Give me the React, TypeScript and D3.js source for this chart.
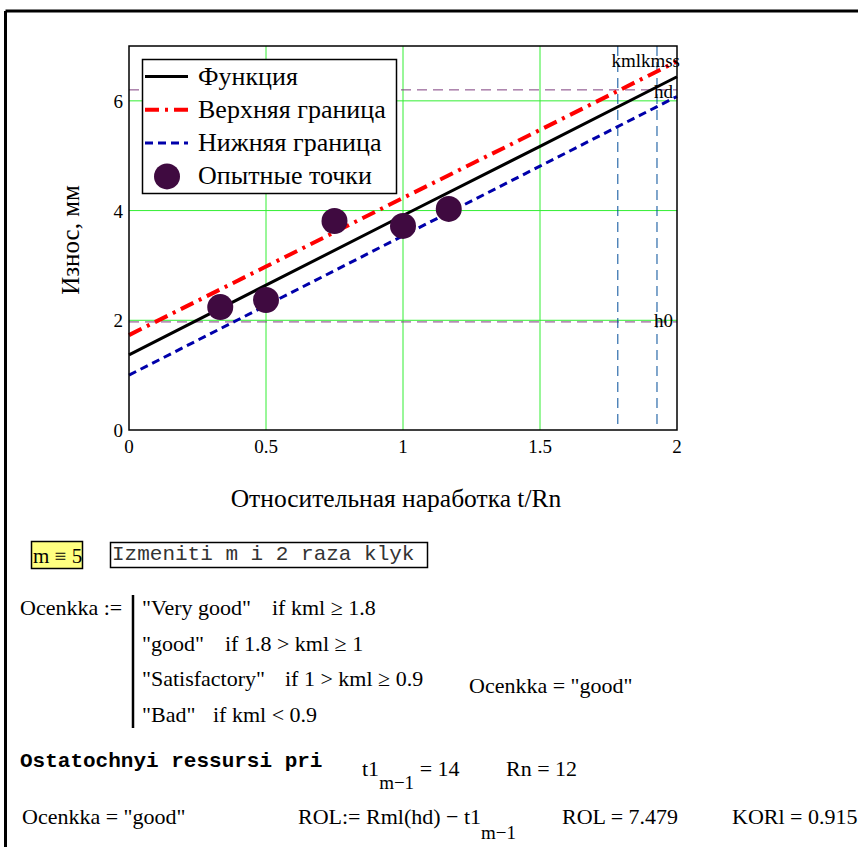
import { useMemo } from 'react'
import * as d3 from 'd3'

// line samples (relative running time t/Rn)
const lineX = [0, 0.5, 1, 1.5, 2]
const funcY = [1.37, 2.64, 3.91, 5.17, 6.44]
const upperY = [1.73, 2.98, 4.23, 5.47, 6.72]
const lowerY = [1.0, 2.27, 3.54, 4.81, 6.08]

// experimental points
const pointX = [0.333, 0.5, 0.75, 1.0, 1.167]
const pointY = [2.24, 2.37, 3.81, 3.72, 4.03]

// reference levels
const hd = 6.2
const h0 = 1.97
const kml = 1.784
const kmss = 1.927

const xTicks = [0, 0.5, 1, 1.5, 2]
const yTicks = [0, 2, 4, 6]
const xTickLabels = ['0', '0.5', '1', '1.5', '2']
const yTickLabels = ['0', '2', '4', '6']

const legendLabels = ['Функция', 'Верхняя граница', 'Нижняя граница', 'Опытные точки']

const serif = '"Liberation Serif", "Times New Roman", serif'
const mono = '"Liberation Mono", "Courier New", monospace'

const App = () => {
  const x = useMemo(() => d3.scaleLinear().domain([0, 2]).range([129, 677]), [])
  const y = useMemo(() => d3.scaleLinear().domain([0, 7]).range([430, 46]), [])

  const line = d3.line<number>()
    .x((d, i) => x(lineX[i]))
    .y(d => y(d))

  const [x0, x1] = x.range()
  const [y0, y1] = y.range()

  return (
    <svg width={858} height={847} style={{ position: 'absolute', left: 0, top: 0, background: '#fff' }}>
      {/* sheet frame */}
      <line x1={5.5} x2={858} y1={11} y2={11} stroke="#000" strokeWidth={3} />
      <line x1={5.5} x2={5.5} y1={11} y2={847} stroke="#000" strokeWidth={3} />

      {/* grid */}
      {xTicks.slice(1, -1).map(t => (
        <line key={'gx' + t} x1={x(t)} x2={x(t)} y1={y1} y2={y0} stroke="#33ee33" strokeWidth={1} />
      ))}
      {yTicks.slice(1).map(t => (
        <line key={'gy' + t} x1={x0} x2={x1} y1={y(t)} y2={y(t)} stroke="#33ee33" strokeWidth={1} />
      ))}

      {/* reference markers */}
      <line x1={x0} x2={x1} y1={y(hd)} y2={y(hd)} stroke="#7f3f7f" strokeWidth={1} strokeDasharray="10,6" />
      <line x1={x0} x2={x1} y1={y(h0)} y2={y(h0)} stroke="#7f3f7f" strokeWidth={1} strokeDasharray="10,6" />
      <line x1={x(kml)} x2={x(kml)} y1={y1} y2={y0} stroke="#004c99" strokeWidth={1} strokeDasharray="10,6" />
      <line x1={x(kmss)} x2={x(kmss)} y1={y1} y2={y0} stroke="#004c99" strokeWidth={1} strokeDasharray="10,6" />

      {/* series */}
      <path d={line(upperY) ?? ''} fill="none" stroke="#ff0000" strokeWidth={4} strokeDasharray="14,6,3,6" />
      <path d={line(lowerY) ?? ''} fill="none" stroke="#0000aa" strokeWidth={3} strokeDasharray="8,5" />
      <path d={line(funcY) ?? ''} fill="none" stroke="#000" strokeWidth={3} />
      {pointX.map((px, i) => (
        <circle key={'p' + i} cx={x(px)} cy={y(pointY[i])} r={13} fill="#3f0a40" />
      ))}

      {/* plot frame */}
      <rect x={x0} y={y1} width={x1 - x0} height={y0 - y1} fill="none" stroke="#000" strokeWidth={1.5} />

      {/* marker labels */}
      <text x={680} y={67} textAnchor="end" fontFamily={serif} fontSize={19}>kmlkmss</text>
      <text x={673} y={98} textAnchor="end" fontFamily={serif} fontSize={19}>hd</text>
      <text x={673} y={327} textAnchor="end" fontFamily={serif} fontSize={19}>h0</text>

      {/* ticks */}
      {xTicks.map((t, i) => (
        <text key={'tx' + t} x={x(t)} y={453} textAnchor="middle" fontFamily={serif} fontSize={19}>{xTickLabels[i]}</text>
      ))}
      {yTicks.map((t, i) => (
        <text key={'ty' + t} x={123} y={y(t) + 7} textAnchor="end" fontFamily={serif} fontSize={19}>{yTickLabels[i]}</text>
      ))}

      {/* axis titles */}
      <text x={396} y={507} textAnchor="middle" fontFamily={serif} fontSize={25.5}>Относительная наработка t/Rn</text>
      <text transform="translate(79,240) rotate(-90)" textAnchor="middle" fontFamily={serif} fontSize={25}>Износ, мм</text>

      {/* legend */}
      <rect x={142.5} y={59.5} width={254} height={134} fill="#fff" stroke="#000" strokeWidth={1.5} />
      {legendLabels.map((lab, i) => {
        const ly = 76.5 + i * 33.3
        return (
          <g key={lab}>
            {i === 0 && <line x1={145} x2={188} y1={ly} y2={ly} stroke="#000" strokeWidth={3} />}
            {i === 1 && <line x1={145} x2={188} y1={ly} y2={ly} stroke="#ff0000" strokeWidth={4} strokeDasharray="14,6,3,6" />}
            {i === 2 && <line x1={145} x2={188} y1={ly} y2={ly} stroke="#0000aa" strokeWidth={3} strokeDasharray="8,5" />}
            {i === 3 && <circle cx={167} cy={ly} r={13} fill="#3f0a40" />}
            <text x={198} y={ly + 8} fontFamily={serif} fontSize={26}>{lab}</text>
          </g>
        )
      })}

      {/* worksheet expressions */}
      <rect x={31.5} y={541.5} width={51} height={27} fill="#ffff80" stroke="#000" strokeWidth={1.5} />
      <text x={33} y={563} fontFamily={serif} fontSize={21}>m ≡ 5</text>
      <rect x={110.5} y={542.5} width={317} height={25} fill="none" stroke="#000" strokeWidth={1.5} />
      <text x={112} y={560} fontFamily={mono} fontSize={21} fill="#333">Izmeniti m i 2 raza klyk</text>

      <text x={20} y={615} fontFamily={serif} fontSize={22}>Ocenkka :=</text>
      <line x1={133} x2={133} y1={595} y2={728} stroke="#000" strokeWidth={2.5} />
      <text x={142} y={615} fontFamily={serif} fontSize={22}>"Very good"</text>
      <text x={272} y={615} fontFamily={serif} fontSize={22}>if  kml ≥ 1.8</text>
      <text x={142} y={651} fontFamily={serif} fontSize={22}>"good"</text>
      <text x={225} y={651} fontFamily={serif} fontSize={22}>if  1.8 &gt; kml ≥ 1</text>
      <text x={142} y={686} fontFamily={serif} fontSize={22}>"Satisfactory"</text>
      <text x={285} y={686} fontFamily={serif} fontSize={22}>if  1 &gt; kml ≥ 0.9</text>
      <text x={142} y={722} fontFamily={serif} fontSize={22}>"Bad"</text>
      <text x={213} y={722} fontFamily={serif} fontSize={22}>if  kml &lt; 0.9</text>
      <text x={469} y={693} fontFamily={serif} fontSize={22}>Ocenkka = "good"</text>

      <text x={20} y={767} fontFamily={mono} fontSize={21} fontWeight="bold">Ostatochnyi ressursi pri</text>
      <text x={362} y={776} fontFamily={serif} fontSize={22}>
        t1<tspan dy={13} fontSize={19}>m−1</tspan><tspan dy={-13}> = 14</tspan>
      </text>
      <text x={506} y={776} fontFamily={serif} fontSize={22}>Rn = 12</text>

      <text x={22} y={824} fontFamily={serif} fontSize={22}>Ocenkka = "good"</text>
      <text x={298} y={824} fontFamily={serif} fontSize={22}>
        ROL:= Rml(hd) − t1<tspan dy={15} fontSize={19}>m−1</tspan>
      </text>
      <text x={562} y={824} fontFamily={serif} fontSize={22}>ROL = 7.479</text>
      <text x={732} y={824} fontFamily={serif} fontSize={22}>KORl = 0.915</text>
    </svg>
  )
}

export default App
